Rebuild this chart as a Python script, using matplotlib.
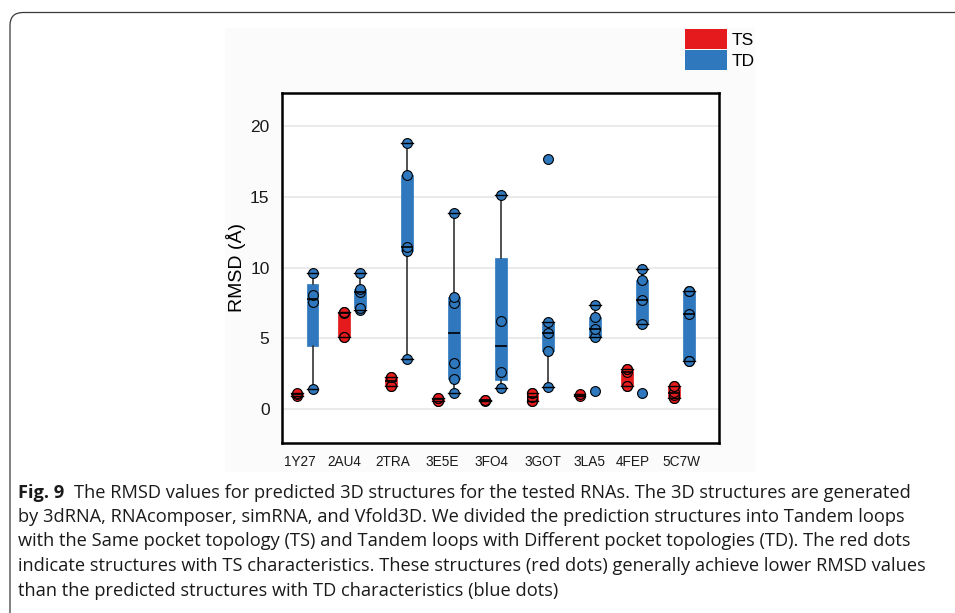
import numpy as np
import matplotlib
matplotlib.use("Agg")
import matplotlib.pyplot as plt
import matplotlib.transforms as mtrans
from matplotlib.patches import Patch, FancyBboxPatch, Rectangle

# RNAs on the x axis
rnas = ["1Y27", "2AU4", "2TRA", "3E5E", "3FO4", "3GOT", "3LA5", "4FEP", "5C7W"]

# RMSD of predicted structures, tandem loops with same pocket topology (TS)
ts_vals = [
    [0.94, 1.04, 1.11],
    [5.07, 5.07, 6.80, 6.88, 6.88],
    [1.65, 1.65, 2.28, 2.28],
    [0.57, 0.57, 0.80, 0.80],
    [0.55, 0.60, 0.64],
    [0.59, 0.59, 0.83, 1.11, 1.11],
    [0.94, 1.06],
    [1.65, 1.65, 2.60, 2.83, 2.83],
    [0.76, 0.76, 0.99, 1.22, 1.65, 1.65],
]
# ... and with different pocket topologies (TD)
td_vals = [
    [1.39, 7.55, 8.07, 9.60],
    [7.00, 7.12, 8.30, 8.46, 9.60],
    [3.56, 11.20, 11.44, 16.53, 18.80],
    [1.11, 2.15, 3.28, 7.52, 7.95, 13.90],
    [1.46, 2.62, 6.23, 15.14],
    [1.53, 4.13, 5.35, 6.16, 17.67],
    [1.30, 5.12, 5.64, 6.51, 7.36],
    [1.11, 5.99, 7.69, 9.10, 9.93],
    [3.38, 3.38, 6.72, 8.37, 8.37],
]

red = "#e41a1c"
blue = "#2f78be"


def fivenum(v):
    # Tukey hinges, like R's boxplot
    v = np.sort(np.asarray(v, float))
    k = len(v)
    n4 = np.floor((k + 3) / 2) / 2
    d = np.array([1, n4, (k + 1) / 2, k + 1 - n4, k]) - 1
    return 0.5 * (v[np.floor(d).astype(int)] + v[np.ceil(d).astype(int)])


def box_stats(v):
    v = np.asarray(v, float)
    mn, q1, med, q3, mx = fivenum(v)
    iqr = q3 - q1
    lo = v[v >= q1 - 1.5 * iqr].min()
    hi = v[v <= q3 + 1.5 * iqr].max()
    return dict(med=med, q1=q1, q3=q3, whislo=lo, whishi=hi, fliers=[])


W, H = 955, 613
fig = plt.figure(figsize=(W / 100, H / 100), dpi=100)

# rounded frame of the figure panel
fig.patches.append(FancyBboxPatch((0.10, -0.6), 15, 6.005 + 0.6,
                                  boxstyle="round,pad=0,rounding_size=0.13",
                                  transform=fig.dpi_scale_trans, fill=False,
                                  ec="#3a3a3a", lw=0.9, zorder=-2))
# faint background of the embedded chart image
fig.patches.append(Rectangle((225 / W, 1 - 472 / H), 530 / W, 444 / H,
                             transform=fig.transFigure, fc="#fbfbfb", ec="none",
                             zorder=-1))

ax = fig.add_axes([282 / W, 1 - 443 / H, 437 / W, 350 / H])
ax.set_facecolor("white")

off = 0.165
bw = 0.25
x = np.arange(len(rnas))
for vals, pos, col in [(ts_vals, x - off, red), (td_vals, x + off, blue)]:
    stats = [box_stats(v) for v in vals]
    ax.bxp(stats, positions=pos, widths=bw, patch_artist=True, showfliers=False,
           manage_ticks=False, capwidths=bw,
           boxprops=dict(facecolor=col, edgecolor=col, linewidth=0.5, zorder=2),
           whiskerprops=dict(color="#333333", linewidth=1.2, zorder=2),
           capprops=dict(color="black", linewidth=1.0, zorder=4),
           medianprops=dict(color="black", linewidth=1.2, zorder=4))
    for p, v in zip(pos, vals):
        ax.scatter(np.full(len(v), p), v, s=50, facecolor=col, edgecolor="black",
                   linewidth=0.8, zorder=3)

ax.set_xlim(-0.483, 8.795)
ax.set_ylim(-2.41, 22.36)
ax.set_yticks([0, 5, 10, 15, 20])
ax.yaxis.grid(True, color="#e4e4e4", linewidth=1.1)
ax.set_axisbelow(True)
ax.tick_params(axis="y", length=0, pad=9, labelsize=12.5)
for lab in ax.get_yticklabels():
    lab.set_fontfamily("Liberation Sans")
    lab.set_color("#1a1a1a")
ax.set_xticks([])
for s in ax.spines.values():
    s.set_linewidth(1.8)
    s.set_color("black")
ax.set_ylabel("RMSD (Å)", fontsize=14, fontfamily="Liberation Sans", labelpad=3)

# x labels sit a little off the group centres in the original
label_dx = [-5, -8, -6, -4, -2, 3, 2, -2, 0]
base = mtrans.blended_transform_factory(ax.transData, ax.transAxes)
for i, name in enumerate(rnas):
    tr = base + mtrans.ScaledTranslation(label_dx[i] / 100, -19 / 100, fig.dpi_scale_trans)
    ax.text(i, 0, name, transform=tr, ha="center", va="center", fontsize=9.8,
            family="Liberation Sans", color="#1a1a1a")

fig.legend(handles=[Patch(fc=red, ec="none"), Patch(fc=blue, ec="none")],
           labels=["TS", "TD"], loc="upper left",
           bbox_to_anchor=(685 / W, 1 - 29 / H), frameon=False,
           handlelength=2.4, handleheight=1.4, labelspacing=0.08,
           handletextpad=0.3, borderpad=0, borderaxespad=0,
           prop=dict(family="Liberation Sans", size=12.5))

# caption
cap_font = "Open Sans"
lines = [
    "The RMSD values for predicted 3D structures for the tested RNAs. The 3D structures are generated",
    "by 3dRNA, RNAcomposer, simRNA, and Vfold3D. We divided the prediction structures into Tandem loops",
    "with the Same pocket topology (TS) and Tandem loops with Different pocket topologies (TD). The red dots",
    "indicate structures with TS characteristics. These structures (red dots) generally achieve lower RMSD values",
    "than the predicted structures with TD characteristics (blue dots)",
]
base_y = [497.5, 522, 546.5, 571, 595.5]

renderer = fig.canvas.get_renderer()
probe = fig.text(0, 0, lines[3], fontsize=12, family=cap_font)
wpx = probe.get_window_extent(renderer).width
probe.remove()
fs = 12 * (902 / wpx)

fig.text(18 / W, 1 - base_y[0] / H, "Fig. 9", fontsize=fs, family=cap_font,
         weight="bold", va="baseline", color="#1a1a1a")
fig.text(74 / W, 1 - base_y[0] / H, lines[0], fontsize=fs, family=cap_font,
         va="baseline", color="#1a1a1a")
for ln, by in zip(lines[1:], base_y[1:]):
    fig.text(18 / W, 1 - by / H, ln, fontsize=fs, family=cap_font,
             va="baseline", color="#1a1a1a")

fig.savefig("out.png", dpi=100)
